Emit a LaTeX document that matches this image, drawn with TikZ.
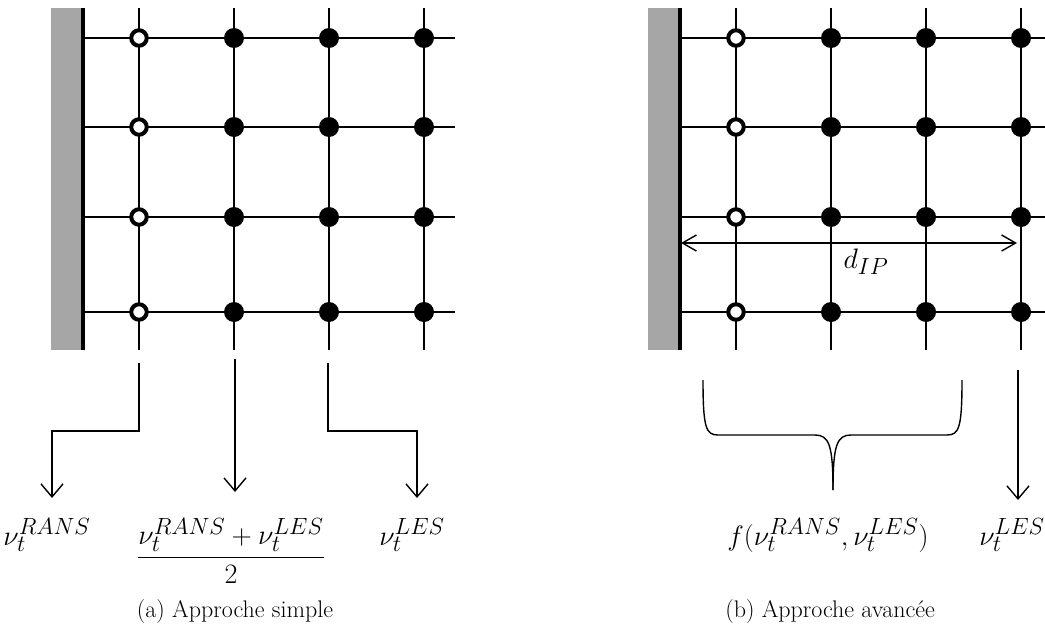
\documentclass[tikz,border=0pt]{standalone}
\usepackage{graphicx}
\usetikzlibrary{arrows.meta}
\definecolor{wallgray}{HTML}{A6A6A6}
\newcommand{\bigmath}[1]{\scalebox{1.13}{$#1$}}
\tikzset{
  gridline/.style={line width=2.6pt},
  wallline/.style={line width=4pt},
  opendot/.style={circle, draw=black, fill=white, line width=4pt, minimum size=15.5pt, inner sep=0pt},
  fulldot/.style={circle, fill=black, minimum size=20pt, inner sep=0pt},
  conn/.style={line width=1.4pt, -{Straight Barb[length=13pt,width=22pt,line width=1.4pt]}},
  dimline/.style={line width=1.4pt, {Straight Barb[length=14pt,width=16pt,line width=1.4pt]}-{Straight Barb[length=14pt,width=16pt,line width=1.4pt]}},
  bracket/.style={line width=1.4pt},
  lbl/.style={font=\fontsize{24.88}{30}\selectfont, inner sep=0pt, anchor=base},
  captext/.style={font=\fontsize{24}{28}\selectfont, inner sep=0pt},
}
\begin{document}
\begin{tikzpicture}[x=1pt,y=-1pt]
\useasboundingbox (0,0) rectangle (1045,640);
\foreach \p/\ox/\xe in {a/0/455, b/597/1045} {
  \fill[wallgray] (51+\ox,8) rectangle (81+\ox,350);
  \coordinate (\p-wt) at (82.5+\ox,8);
  \coordinate (\p-wb) at (82.5+\ox,350);
  \draw[wallline] (\p-wt) -- (\p-wb);
  \foreach \r/\y in {1/38, 2/127, 3/217, 4/312} {
    \coordinate (\p-w\r) at (84+\ox,\y);
    \coordinate (\p-e\r) at (\xe,\y);
    \draw[gridline] (\p-w\r) -- (\p-e\r);
  }
  \foreach \c/\x in {1/139, 2/234, 3/329, 4/424} {
    \coordinate (\p-t\c) at (\x+\ox,8);
    \coordinate (\p-b\c) at (\x+\ox,350);
    \draw[gridline] (\p-t\c) -- (\p-b\c);
  }
  \foreach \r/\y in {1/38, 2/127, 3/217, 4/312} {
    \node[opendot] (\p-\r-1) at (139+\ox,\y) {};
    \foreach \c/\x in {2/234, 3/329, 4/424} {
      \node[fulldot] (\p-\r-\c) at (\x+\ox,\y) {};
    }
  }
}
% ---- panel (a) ----
\coordinate (a-s1) at (139,363);
\coordinate (a-e1) at (52,498);
\coordinate (a-s2) at (235,359);
\coordinate (a-e2) at (235,492);
\coordinate (a-s3) at (328,363);
\coordinate (a-e3) at (417,498);
\draw[conn] (a-s1) |- (a-e1 |- 0,431) -- (a-e1);
\draw[conn] (a-s2) -- (a-e2);
\draw[conn] (a-s3) |- (a-e3 |- 0,431) -- (a-e3);
\node[lbl] (la1) at (47,545) {\bigmath{\nu_t^{RANS}}};
\node[lbl] (la2) at (231,564) {\bigmath{\displaystyle\frac{\nu_t^{RANS}+\nu_t^{LES}}{2}}};
\node[lbl] (la3) at (412,545) {\bigmath{\nu_t^{LES}}};
\node[captext] (capa) at (235,612) {(a) Approche simple};
% ---- panel (b) ----
\coordinate (b-dl) at (681,243);
\coordinate (b-dr) at (1017,243);
\draw[dimline] (b-dl) -- (b-dr);
\node[lbl] (dip) at (866,268) {\bigmath{d_{IP}}};
\coordinate (b-bl) at (703,380);
\coordinate (b-br) at (962,380);
\coordinate (b-bt) at (833,490);
\draw[bracket] (b-bl) .. controls (703,428) and (706,435) .. (718,435) -- (815,435)
  .. controls (829,435) and (833,445) .. (b-bt);
\draw[bracket] (b-br) .. controls (962,428) and (959,435) .. (947,435) -- (851,435)
  .. controls (837,435) and (833,445) .. (b-bt);
\coordinate (b-s4) at (1018,370);
\coordinate (b-e4) at (1018,500);
\draw[conn] (b-s4) -- (b-e4);
\node[lbl] (lb1) at (828,545) {\bigmath{f(\nu_t^{RANS},\nu_t^{LES})}};
\node[lbl] (lb2) at (1012,545) {\bigmath{\nu_t^{LES}}};
\node[captext] (capb) at (830,612) {(b) Approche avancée};
\end{tikzpicture}
\end{document}
